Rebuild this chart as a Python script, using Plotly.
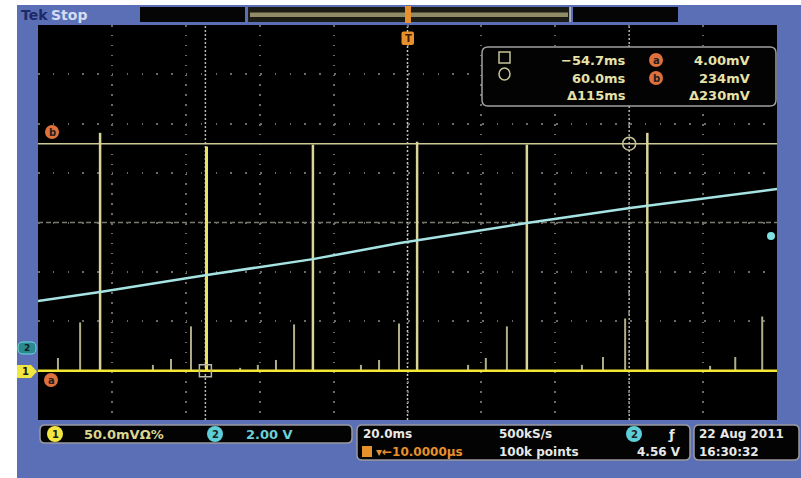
import plotly.graph_objects as go

# ---------------- data ----------------
# Channel 1 (yellow) spikes: time in ms, peak in mV
spike_t_ms = [-94.6, -88.6, -83.2,
              -68.9, -64.0, -58.6, -54.4,
              -45.3, -40.5, -35.6, -30.7, -25.6,
              -12.6, -7.7, -2.3, 2.6,
              16.4, 21.2, 26.9, 32.3,
              47.2, 52.9, 58.9, 64.9,
              81.9, 88.7, 96.0]
spike_peak_mv = [17, 53, 245,
                 10, 16, 49, 231,
                 7, 10, 15, 51, 233,
                 10, 15, 52, 236,
                 10, 17, 49, 233,
                 10, 18, 57, 245,
                 9, 18, 59]
ch1_baseline_mv = 4.0

# Channel 2 (cyan) ramp: time in ms, volts
ramp_t_ms = [-100, -83.2, -54.3, -25.6, -2.0, 32.3, 60.2, 100]
ramp_v = [1.90, 2.27, 2.96, 3.60, 4.25, 5.06, 5.67, 6.44]

# Cursors
cursor_t_ms = [-54.7, 60.0]
cursor_mv = [4.00, 234.0]
trigger_level_v = 4.56

# Scope settings / readouts
ch1_scale = "50.0mVΩ%"
ch2_scale = "2.00 V"
time_scale = "20.0ms"
sample_rate = "500kS/s"
record_len = "100k points"
trig_pos = "▾←10.0000µs"
trig_level_txt = "4.56 V"
date_txt = "22 Aug 2011"
time_txt = "16:30:32"
readout_t = ["−54.7ms", "60.0ms", "Δ115ms"]
readout_v = ["4.00mV", "234mV", "Δ230mV"]

# ---------------- geometry helpers ----------------
W, H = 801, 478
L, R, T, B = 38, 777, 25, 420


def fx(px):
    return (px - L) / (R - L)


def fy(py):
    return (B - py) / (B - T)


def rr_path(x0, y0, x1, y1, r):
    pts = [("M", [(x0 + r, y0)]), ("L", [(x1 - r, y0)]), ("Q", [(x1, y0), (x1, y0 + r)]),
           ("L", [(x1, y1 - r)]), ("Q", [(x1, y1), (x1 - r, y1)]), ("L", [(x0 + r, y1)]),
           ("Q", [(x0, y1), (x0, y1 - r)]), ("L", [(x0, y0 + r)]), ("Q", [(x0, y0), (x0 + r, y0)])]
    s = ""
    for cmd, ps in pts:
        s += cmd + " " + " ".join(f"{fx(a):.5f},{fy(b):.5f}" for a, b in ps) + " "
    return s + "Z"


BLUE = "#5b6fb7"
FONT = "DejaVu Sans"

fig = go.Figure()

# Channel 2 ramp
fig.add_trace(go.Scatter(x=ramp_t_ms, y=ramp_v, yaxis="y2", mode="lines",
                         line=dict(color="#a6e4e4", width=2.5), hoverinfo="skip"))

# Channel 1 spikes (small / tall)
sx, sy, tx, ty = [], [], [], []
for t, p in zip(spike_t_ms, spike_peak_mv):
    if p > 150:
        tx += [t, t, None]
        ty += [ch1_baseline_mv, p, None]
    else:
        sx += [t, t, None]
        sy += [ch1_baseline_mv, p, None]
fig.add_trace(go.Scatter(x=sx, y=sy, mode="lines", line=dict(color="#b0ae86", width=2),
                         hoverinfo="skip"))
fig.add_trace(go.Scatter(x=tx, y=ty, mode="lines", line=dict(color="#d8d49a", width=2.5),
                         hoverinfo="skip"))
# spike under cursor a is highlighted yellow
fig.add_trace(go.Scatter(x=[spike_t_ms[6], spike_t_ms[6]], y=[ch1_baseline_mv, spike_peak_mv[6]],
                         mode="lines", line=dict(color="#eee060", width=3), hoverinfo="skip"))

# Channel 1 baseline
fig.add_trace(go.Scatter(x=[-100, 100], y=[ch1_baseline_mv, ch1_baseline_mv], mode="lines",
                         line=dict(color="#f4e834", width=2.5), hoverinfo="skip"))

# Cursor intersection markers
fig.add_trace(go.Scatter(x=[cursor_t_ms[0]], y=[cursor_mv[0]], mode="markers",
                         marker=dict(symbol="square-open", size=12, color="#b8b8a8",
                                     line=dict(width=1.5)), hoverinfo="skip"))
fig.add_trace(go.Scatter(x=[cursor_t_ms[1]], y=[cursor_mv[1]], mode="markers",
                         marker=dict(symbol="circle-open", size=13, color="#c8c49a",
                                     line=dict(width=1.5)), hoverinfo="skip"))

shapes = []
# blue frame strips
for x0, y0, x1, y1 in [(17, 5, 801, T), (17, B, 801, 478), (17, 5, L, 478), (R, 5, 801, 478)]:
    shapes.append(dict(type="rect", xref="paper", yref="paper", x0=fx(x0), x1=fx(x1),
                       y0=fy(y1), y1=fy(y0), fillcolor=BLUE, line=dict(width=0), layer="below"))
# top bar pieces
for x0, x1, col in [(140, 245, "#050505"), (573, 678, "#050505"), (248, 570, "#1c1c16")]:
    shapes.append(dict(type="rect", xref="paper", yref="paper", x0=fx(x0), x1=fx(x1),
                       y0=fy(22), y1=fy(7), fillcolor=col, line=dict(width=0)))
shapes.append(dict(type="rect", xref="paper", yref="paper", x0=fx(250), x1=fx(568),
                   y0=fy(17), y1=fy(12.5), fillcolor="#8f8c66", line=dict(width=0)))
shapes.append(dict(type="line", xref="paper", yref="paper", x0=fx(570), x1=fx(570),
                   y0=fy(22), y1=fy(7), line=dict(color="#c8c8c8", width=1.5)))
# trigger markers (orange)
shapes.append(dict(type="rect", xref="paper", yref="paper", x0=fx(405), x1=fx(411),
                   y0=fy(23), y1=fy(6), fillcolor="#e8902c", line=dict(width=0)))
shapes.append(dict(type="path", xref="paper", yref="paper", path=rr_path(401.5, 31.5, 414, 45, 2),
                   fillcolor="#e8902c", line=dict(width=0)))

# centre crosshair
shapes.append(dict(type="line", xref="paper", yref="paper", x0=0, x1=1, y0=0.5, y1=0.5,
                   line=dict(color="#7a7a72", width=1.5, dash="5px,3px"), layer="below"))
shapes.append(dict(type="line", xref="paper", yref="paper", x0=0.5, x1=0.5, y0=0, y1=1,
                   line=dict(color="#c8c8c0", width=1.5, dash="2px,2px"), layer="below"))
# vertical cursors
for ct in cursor_t_ms:
    shapes.append(dict(type="line", xref="x", yref="paper", x0=ct, x1=ct, y0=0, y1=1,
                       line=dict(color="#b8b8a8", width=1.5, dash="2px,2px"), layer="below"))
# horizontal cursors
for cm in cursor_mv:
    shapes.append(dict(type="line", xref="paper", yref="y", x0=0, x1=1, y0=cm, y1=cm,
                       line=dict(color="#cdc995", width=1.5), layer="below"))

# cursor readout box
shapes.append(dict(type="path", xref="paper", yref="paper", path=rr_path(482, 47, 776, 106, 6),
                   fillcolor="#030303", line=dict(color="#a0a0a0", width=1.5)))
shapes.append(dict(type="rect", xref="paper", yref="paper", x0=fx(499), x1=fx(510),
                   y0=fy(63), y1=fy(52), line=dict(color="#c8c49a", width=1.5)))
shapes.append(dict(type="circle", xref="paper", yref="paper", x0=fx(499), x1=fx(510),
                   y0=fy(80), y1=fy(68), line=dict(color="#c8c49a", width=1.5)))

# bottom status boxes
for x0, y0, x1, y1 in [(40, 425, 352, 443), (357, 425, 690, 460), (694, 425, 799, 460)]:
    shapes.append(dict(type="path", xref="paper", yref="paper", path=rr_path(x0, y0, x1, y1, 5),
                       fillcolor="#030303", line=dict(color="#9a9aa0", width=1.5)))
shapes.append(dict(type="rect", xref="paper", yref="paper", x0=fx(362), x1=fx(372),
                   y0=fy(457), y1=fy(446), fillcolor="#e8902c", line=dict(width=0)))

annotations = []


def circ(cx, cy, r, fill, label, tcol="#202020"):
    shapes.append(dict(type="circle", xref="paper", yref="paper", x0=fx(cx - r), x1=fx(cx + r),
                       y0=fy(cy + r), y1=fy(cy - r), fillcolor=fill, line=dict(width=0)))
    annotations.append(dict(x=fx(cx), y=fy(cy), xref="paper", yref="paper", text=f"<b>{label}</b>",
                            showarrow=False, font=dict(family=FONT, size=10, color=tcol),
                            xanchor="center", yanchor="middle"))


circ(55, 434, 8, "#f2e640", "1")
circ(215, 434, 8, "#5ccfd8", "2")
circ(634, 434, 8, "#5ccfd8", "2")
circ(656, 60, 7, "#e0703c", "a")
circ(656, 78, 7, "#e0703c", "b")
circ(51, 380, 7, "#e0703c", "a")
circ(52, 132, 7, "#e0703c", "b")

# left channel tags
shapes.append(dict(type="path", xref="paper", yref="paper",
                   path="M " + " L ".join(f"{fx(a):.5f},{fy(b):.5f}" for a, b in
                                          [(17, 365), (31, 365), (37, 371.5), (31, 378), (17, 378)]) + " Z",
                   fillcolor="#f2e640", line=dict(width=0)))
annotations.append(dict(x=fx(25), y=fy(371.5), xref="paper", yref="paper", text="<b>1</b>",
                        showarrow=False, xanchor="center", yanchor="middle",
                        font=dict(family=FONT, size=10, color="#202020")))
shapes.append(dict(type="path", xref="paper", yref="paper", path=rr_path(18, 342, 36, 354, 5),
                   fillcolor="#2a8a90", line=dict(color="#6fd8e0", width=1)))
annotations.append(dict(x=fx(27), y=fy(348), xref="paper", yref="paper", text="<b>2</b>",
                        showarrow=False, xanchor="center", yanchor="middle",
                        font=dict(family=FONT, size=9, color="#0a2020")))
# trigger level marker on right edge
shapes.append(dict(type="circle", xref="paper", yref="paper", x0=fx(767), x1=fx(775),
                   y0=fy(240), y1=fy(232), fillcolor="#7fe0e0", line=dict(width=0)))


def txt(x, y, s, col, size=13, anchor="left", bold=True):
    annotations.append(dict(x=fx(x), y=fy(y), xref="paper", yref="paper",
                            text=f"<b>{s}</b>" if bold else s, showarrow=False,
                            font=dict(family=FONT, size=size, color=col),
                            xanchor=anchor, yanchor="middle"))


YEL = "#e6e2aa"
txt(19, 15, "Tek", "#1c2a66", 14)
txt(49, 15, "Stop", "#d4dcf2", 14)
txt(408, 38.5, "T", "#402000", 10, "center")
for i, (a, b) in enumerate(zip(readout_t, readout_v)):
    yy = 60 + 18 * i
    txt(628, yy, a, YEL, 13, "right")
    txt(752, yy, b, YEL, 13, "right")
txt(82, 434, ch1_scale, "#d8d690", 13)
txt(244, 434, ch2_scale, "#6cd0d8", 13)
txt(361, 434, time_scale, "#e8e8e8", 12)
txt(497, 434, sample_rate, "#e8e8e8", 12)
txt(666, 434, "ƒ", "#e8e8e8", 13)
txt(374, 452, trig_pos, "#e8902c", 12)
txt(497, 452, record_len, "#e8e8e8", 12)
txt(683, 452, trig_level_txt, "#e8e8e8", 12, "right")
txt(697, 434, date_txt, "#e8e8e8", 12)
txt(697, 452, time_txt, "#e8e8e8", 12)

fig.update_layout(
    width=W, height=H,
    margin=dict(l=L, r=W - R, t=T, b=H - B, pad=0),
    paper_bgcolor="white", plot_bgcolor="#000000",
    showlegend=False,
    shapes=shapes, annotations=annotations,
    xaxis=dict(range=[-100, 100], tickmode="linear", tick0=-100, dtick=20, showticklabels=False,
               showgrid=True, gridcolor="#6a6a6a", gridwidth=1.5, griddash="1.5px,8.4px",
               zeroline=False, showline=False, ticks=""),
    yaxis=dict(range=[-45.8, 354.2], tickmode="linear", tick0=4.2, dtick=50, showticklabels=False,
               showgrid=True, gridcolor="#6a6a6a", gridwidth=1.5, griddash="1.5px,13.3px",
               zeroline=False, showline=False, ticks=""),
    yaxis2=dict(range=[-2.916, 13.084], overlaying="y", side="right", showgrid=False,
                showticklabels=False, zeroline=False, ticks=""),
)

fig.write_html("out.html", config={"displayModeBar": False},
               post_script="document.body.style.margin='0';")
